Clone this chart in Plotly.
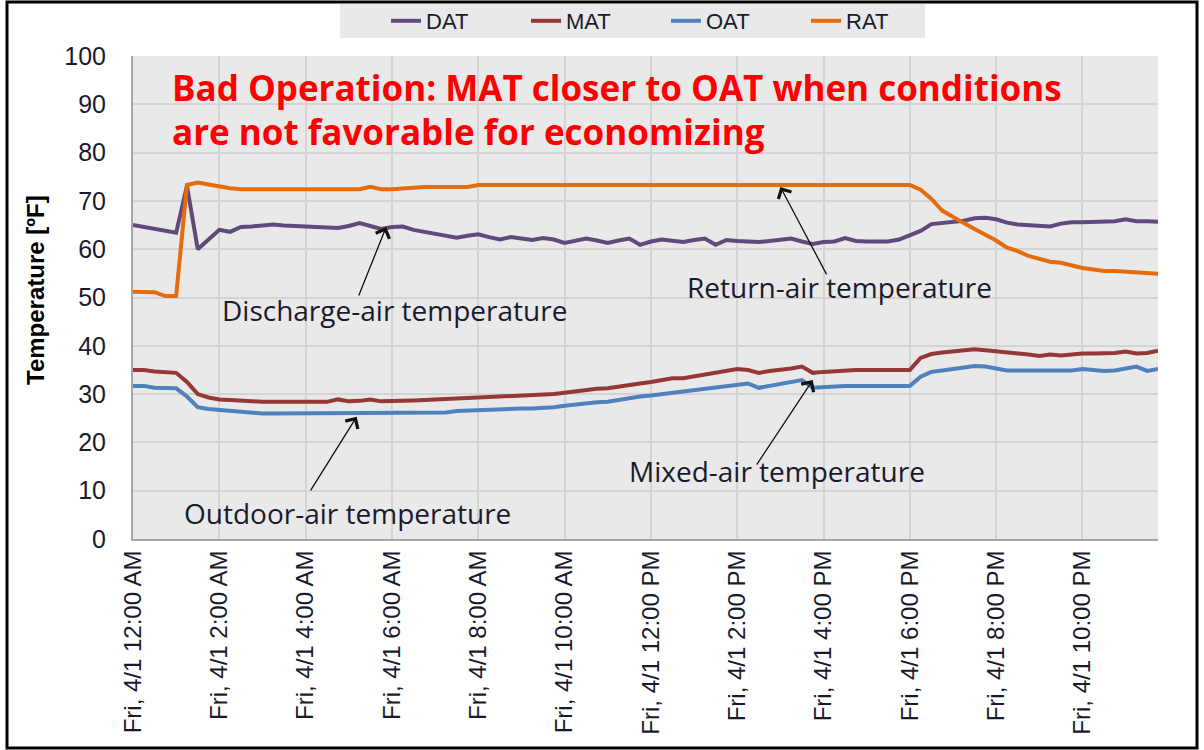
import plotly.graph_objects as go
import pandas as pd

# ---- data (15-minute samples, Fri 4/1, 00:00 .. 23:45) ----
start = "2011-04-01 00:00"
n_points = 96
times = pd.date_range(start, periods=n_points, freq="15min")

DAT = [65.0, 64.6, 64.2, 63.8, 63.4, 73.1, 60.0, 62.0, 64.0, 63.6,
       64.6, 64.7, 64.9, 65.1, 64.9, 64.7, 64.7, 64.6, 64.6, 64.4,
       64.8, 65.4, 64.8, 64.2, 64.6, 64.7, 64.0, 63.6, 63.3, 63.0,
       62.4, 62.8, 63.1, 62.5, 62.0, 62.5, 62.2, 61.9, 62.3, 62.0,
       61.3, 61.8, 62.2, 61.8, 61.3, 61.8, 62.2, 60.9, 61.6, 62.0,
       61.7, 61.5, 61.9, 62.2, 60.9, 61.9, 61.7, 61.5, 61.5, 61.7,
       62.0, 62.2, 61.6, 61.1, 61.5, 61.6, 62.3, 61.7, 61.6, 61.6,
       61.6, 62.0, 62.8, 63.8, 65.2, 65.4, 65.6, 65.9, 66.4, 66.5,
       66.2, 65.5, 65.1, 64.9, 64.8, 64.7, 65.3, 65.6, 65.6, 65.7,
       65.7, 65.8, 66.2, 65.8, 65.8, 65.7]

MAT = [35.0, 35.0, 34.7, 34.5, 34.4, 32.5, 30.0, 29.3, 28.9, 28.8,
       28.6, 28.5, 28.4, 28.4, 28.4, 28.4, 28.4, 28.4, 28.4, 28.9,
       28.5, 28.6, 28.9, 28.5, 28.5, 28.6, 28.7, 28.8, 28.9, 29.0,
       29.1, 29.1, 29.2, 29.3, 29.5, 29.6, 29.6, 29.7, 29.8, 30.0,
       30.3, 30.6, 30.9, 31.1, 31.2, 31.6, 31.9, 32.2, 32.5, 32.9,
       33.3, 33.3, 33.7, 34.1, 34.4, 34.8, 35.2, 35.0, 34.4, 34.8,
       35.0, 35.3, 35.7, 34.4, 34.6, 34.8, 35.0, 35.0, 35.0, 35.0,
       35.0, 35.0, 35.0, 37.5, 38.3, 38.6, 38.8, 39.0, 39.3, 39.1,
       38.9, 38.7, 38.6, 38.2, 37.9, 38.2, 38.0, 38.3, 38.4, 38.4,
       38.4, 38.5, 38.8, 38.4, 38.5, 39.0]

OAT = [31.7, 31.7, 31.3, 31.2, 31.2, 29.5, 27.3, 26.9, 26.7, 26.5,
       26.2, 26.0, 26.0, 26.0, 26.0, 26.0, 26.0, 26.0, 26.0, 26.0,
       26.0, 26.0, 26.0, 26.0, 26.0, 26.0, 26.0, 26.0, 26.0, 26.2,
       26.5, 26.6, 26.7, 26.8, 26.8, 26.9, 27.0, 27.0, 27.1, 27.3,
       27.6, 27.9, 28.1, 28.3, 28.4, 28.8, 29.2, 29.5, 29.7, 30.0,
       30.3, 30.4, 30.8, 31.2, 31.4, 31.8, 31.9, 32.2, 31.3, 31.7,
       32.0, 32.4, 32.9, 31.3, 31.5, 31.7, 31.7, 31.7, 31.7, 31.7,
       31.7, 31.7, 31.7, 33.6, 34.6, 34.9, 35.2, 35.6, 35.8, 35.7,
       35.3, 34.9, 34.9, 34.9, 34.9, 34.9, 34.9, 34.9, 35.2, 34.9,
       34.8, 34.9, 35.3, 35.7, 34.8, 35.2]

RAT = [51.2, 51.2, 51.1, 50.3, 50.3, 73.3, 73.8, 73.4, 72.9, 72.6,
       72.4, 72.4, 72.4, 72.4, 72.4, 72.4, 72.4, 72.4, 72.4, 72.4,
       72.4, 72.4, 72.9, 72.4, 72.4, 72.6, 72.9, 72.9, 72.9, 72.9,
       72.9, 72.9, 73.3, 73.3, 73.3, 73.3, 73.3, 73.3, 73.3, 73.3,
       73.3, 73.3, 73.3, 73.3, 73.3, 73.3, 73.3, 73.3, 73.3, 73.3,
       73.3, 73.3, 73.3, 73.3, 73.3, 73.3, 73.3, 73.3, 73.3, 73.3,
       73.3, 73.3, 73.3, 73.3, 73.3, 73.3, 73.3, 73.3, 73.3, 73.3,
       73.3, 73.3, 73.3, 72.3, 70.4, 68.0, 66.6, 65.4, 64.2, 63.0,
       61.8, 60.3, 59.6, 58.6, 57.9, 57.4, 57.2, 56.6, 56.1, 55.8,
       55.5, 55.5, 55.4, 55.3, 55.0, 54.9]

series_names = ["DAT", "MAT", "OAT", "RAT"]
series_colors = ["#604A7B", "#953735", "#4F81BD", "#E46C0A"]

tick_times = pd.date_range(start, periods=12, freq="2h")
tick_labels = ["Fri, 4/1 12:00 AM", "Fri, 4/1 2:00 AM", "Fri, 4/1 4:00 AM",
               "Fri, 4/1 6:00 AM", "Fri, 4/1 8:00 AM", "Fri, 4/1 10:00 AM",
               "Fri, 4/1 12:00 PM", "Fri, 4/1 2:00 PM", "Fri, 4/1 4:00 PM",
               "Fri, 4/1 6:00 PM", "Fri, 4/1 8:00 PM", "Fri, 4/1 10:00 PM"]

title_lines = ["Bad Operation: MAT closer to OAT when conditions",
               "are not favorable for economizing"]
y_title = "Temperature [ºF]"

# ---- figure ----
fig = go.Figure()
for name, vals, col in zip(series_names, [DAT, MAT, OAT, RAT], series_colors):
    fig.add_trace(go.Scatter(x=times, y=vals, mode="lines", name=name,
                             line=dict(color=col, width=4)))

W, H = 1204, 750
ml, mr, mt, mb = 133, 46, 56, 211
pw, ph = W - ml - mr, H - mt - mb

def px(xp):
    return (xp - ml) / pw

def py(yp):
    return (H - mb - yp) / ph

text_col = "#1a1a2e"
lab_font = dict(family="Open Sans, Arial", size=28, color=text_col)
title_font = dict(family="Open Sans", size=35, color="#FF0000", weight="bold")

annotations = [
    dict(text=title_lines[0], x=px(170), y=py(88), xref="paper", yref="paper",
         xanchor="left", yanchor="middle", showarrow=False, font=title_font),
    dict(text=title_lines[1], x=px(170), y=py(131), xref="paper", yref="paper",
         xanchor="left", yanchor="middle", showarrow=False, font=title_font),
    dict(text="Discharge-air temperature", x=px(394), y=py(310), xref="paper", yref="paper",
         xanchor="center", yanchor="middle", showarrow=False, font=lab_font),
    dict(text="Return-air temperature", x=px(839), y=py(287), xref="paper", yref="paper",
         xanchor="center", yanchor="middle", showarrow=False, font=lab_font),
    dict(text="Outdoor-air temperature", x=px(347), y=py(513), xref="paper", yref="paper",
         xanchor="center", yanchor="middle", showarrow=False, font=lab_font),
    dict(text="Mixed-air temperature", x=px(777), y=py(471), xref="paper", yref="paper",
         xanchor="center", yanchor="middle", showarrow=False, font=lab_font),
    dict(text=y_title, x=px(35), y=py(290), xref="paper", yref="paper",
         xanchor="center", yanchor="middle", textangle=-90, showarrow=False,
         font=dict(family="Liberation Sans, Arial", size=24, color="#000000", weight="bold")),
]

# arrows: head at (time, temp), tail offset in pixels
arrow_specs = [
    (times[23] + pd.Timedelta(minutes=7), 64.6, -28, 70),
    (times[60], 72.9, 47, 89),
    (times[20] + pd.Timedelta(minutes=11), 25.3, -47, 75),
    (times[63], 32.9, -57, 86),
]
for xh, yh, ax, ay in arrow_specs:
    annotations.append(dict(x=xh, y=yh, xref="x", yref="y", ax=ax, ay=ay,
                            showarrow=True, arrowhead=4, arrowsize=2.2,
                            arrowwidth=1.3, arrowcolor="#111111", text=""))

fig.update_layout(
    width=W, height=H,
    margin=dict(l=ml, r=mr, t=mt, b=mb, autoexpand=False),
    paper_bgcolor="white",
    plot_bgcolor="#E9E9E9",
    font=dict(family="Liberation Sans, Arial", color=text_col),
    showlegend=True,
    legend=dict(orientation="h", x=px(386), y=py(0), xanchor="left", yanchor="top",
                bgcolor="rgba(0,0,0,0)", font=dict(size=22, color=text_col),
                entrywidth=95, entrywidthmode="pixels",
                itemwidth=30, borderwidth=0, tracegroupgap=0),
    annotations=annotations,
    shapes=[
        dict(type="rect", xref="paper", yref="paper", layer="below",
             x0=px(340), x1=px(925), y0=py(38), y1=py(4),
             line=dict(width=0), fillcolor="#E9E9E9"),
        dict(type="rect", xref="paper", yref="paper",
             x0=px(7), x1=px(1197), y0=py(748), y1=py(2),
             line=dict(color="black", width=3), fillcolor="rgba(0,0,0,0)"),
    ],
    xaxis=dict(type="date", range=[times[0], times[-1]],
               tickmode="array", tickvals=tick_times, ticktext=tick_labels,
               tickangle=-90, tickfont=dict(size=24, color=text_col),
               showgrid=True, gridcolor="#D4D4D4", gridwidth=1.5,
               showline=True, linecolor="#A6A6A6", linewidth=2,
               ticks="", zeroline=False, automargin=False),
    yaxis=dict(range=[0, 100], dtick=10, tick0=0,
               tickfont=dict(size=25, color=text_col),
               ticklabelstandoff=20,
               showgrid=True, gridcolor="#D4D4D4", gridwidth=1.5,
               showline=True, linecolor="#A6A6A6", linewidth=2,
               ticks="", zeroline=False, automargin=False),
)

fig.write_html("out.html", config={"displayModeBar": False},
               post_script="document.body.style.margin='0';document.body.style.overflow='hidden';")
